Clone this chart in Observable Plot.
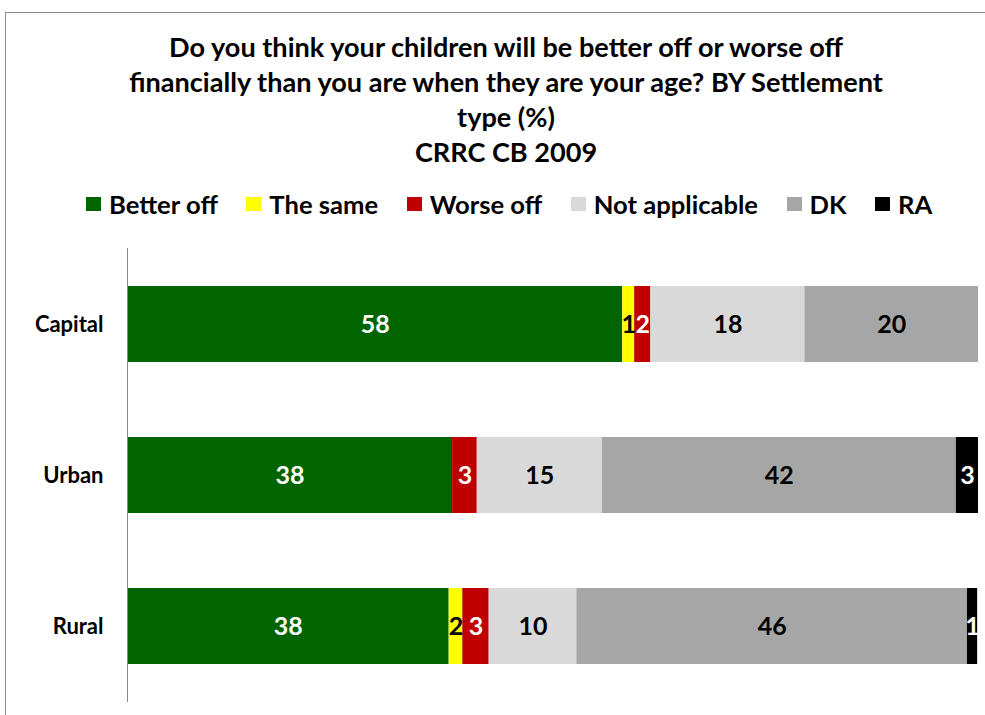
<!DOCTYPE html>
<html><head><meta charset="utf-8">
<script src="https://cdn.jsdelivr.net/npm/d3@7"></script>
<script src="https://cdn.jsdelivr.net/npm/@observablehq/plot@0.6"></script>
<style>
body{margin:0;background:#fff;font-family:Lato,"Open Sans",sans-serif;}
#wrap{position:relative;width:985px;height:715px;overflow:hidden;background:#fff;}
#frame{position:absolute;left:5px;top:12px;width:1000px;height:720px;border:1px solid #8c8c8c;}
#title{position:absolute;left:0;width:1012px;top:29px;text-align:center;font-weight:700;font-size:27.1px;line-height:35px;color:#000;}
#legend{position:absolute;left:86px;top:188px;display:flex;font-weight:700;font-size:25.6px;line-height:32px;color:#000;white-space:nowrap;}
#legend span.item{display:inline-flex;align-items:center;margin-right:28.5px;}
#legend i{display:inline-block;width:15px;height:14px;margin-right:8px;}
#chart{position:absolute;left:0;top:240px;}
</style></head>
<body><div id="wrap"><div id="frame"></div>
<div id="title">Do you think your children will be better off or worse off<br>financially than you are when they are your age? BY Settlement<br>type (%)<br>CRRC CB 2009</div>
<div id="legend"></div>
<div id="chart"></div></div>
<script>
const categories = ["Capital", "Urban", "Rural"];
const seriesNames = ["Better off", "The same", "Worse off", "Not applicable", "DK", "RA"];
const betterOff = [58.2, 38.2, 37.8];
const theSame = [1.4, 0, 1.6];
const worseOff = [1.9, 2.9, 3.1];
const notApplicable = [18.1, 14.7, 10.3];
const dk = [20.4, 41.6, 45.9];
const ra = [0, 2.6, 1.2];
const colors = ["#006400", "#ffff00", "#c00000", "#d9d9d9", "#a6a6a6", "#000000"];
const labelColors = ["#fff", "#000", "#fff", "#000", "#000", "#fff"];

const seriesValues = [betterOff, theSame, worseOff, notApplicable, dk, ra];
const data = [];
categories.forEach((c, ci) => {
  seriesNames.forEach((s, si) => {
    data.push({cat: c, series: s, value: seriesValues[si][ci], si});
  });
});

const legend = document.getElementById("legend");
seriesNames.forEach((s, i) => {
  const el = document.createElement("span");
  el.className = "item";
  el.innerHTML = `<i style="background:${colors[i]}"></i>${s}`;
  legend.appendChild(el);
});

const chart = Plot.plot({
  width: 985, height: 470,
  marginLeft: 127, marginRight: 7, marginTop: 8, marginBottom: 8,
  x: {domain: [0, 100], axis: null},
  y: {domain: categories, paddingInner: 0.5, paddingOuter: 0.25, label: null, axis: null},
  color: {domain: seriesNames, range: colors},
  style: {fontFamily: "Lato, 'Open Sans', sans-serif"},
  marks: [
    Plot.axisY({tickSize: 0, tickPadding: 24, fontSize: 22, fontWeight: 700, label: null, fill: "#000"}),
    Plot.barX(data, {x: "value", y: "cat", fill: "series", order: seriesNames}),
    Plot.text(data, Plot.stackX({x: "value", y: "cat", z: "series", order: seriesNames,
      text: d => d.value > 0 ? String(Math.round(d.value)) : "",
      fill: d => labelColors[d.si], fontSize: 25, fontWeight: 700})),
    Plot.ruleX([0], {stroke: "#888", strokeWidth: 1})
  ]
});
document.getElementById("chart").appendChild(chart);
</script></body></html>
